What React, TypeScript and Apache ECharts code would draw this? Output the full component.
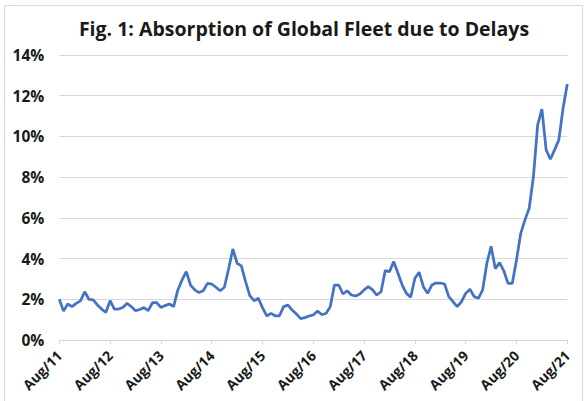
import React, { useEffect, useRef } from "react";
import * as echarts from "echarts";

const TITLE = "Fig. 1: Absorption of Global Fleet due to Delays";
const MONTHS = ["Jan", "Feb", "Mar", "Apr", "May", "Jun", "Jul", "Aug", "Sep", "Oct", "Nov", "Dec"];
const START_MONTH = 7; // Aug
const START_YEAR = 2011;
const Y_TICKS = [0, 2, 4, 6, 8, 10, 12, 14];

// Absorption of global fleet (%), monthly Aug 2011 - Aug 2021
const absorption = [
  2.0, 1.42, 1.77, 1.64, 1.8, 1.92, 2.37, 2.0, 1.97, 1.72, 1.52, 1.36,
  1.93, 1.52, 1.52, 1.6, 1.8, 1.64, 1.44, 1.5, 1.59, 1.44, 1.83, 1.83,
  1.6, 1.69, 1.77, 1.64, 2.46, 2.95, 3.36, 2.7, 2.46, 2.33, 2.42, 2.78,
  2.75, 2.59, 2.42, 2.59, 3.5, 4.47, 3.77, 3.64, 2.87, 2.18, 1.93, 2.05,
  1.59, 1.18, 1.31, 1.19, 1.19, 1.64, 1.72, 1.47, 1.28, 1.05, 1.1, 1.18,
  1.23, 1.42, 1.25, 1.3, 1.64, 2.7, 2.7, 2.26, 2.42, 2.21, 2.16, 2.26,
  2.46, 2.62, 2.46, 2.21, 2.37, 3.41, 3.36, 3.85, 3.28, 2.7, 2.29, 2.1,
  3.03, 3.33, 2.62, 2.29, 2.7, 2.8, 2.8, 2.75, 2.13, 1.88, 1.64, 1.88,
  2.29, 2.49, 2.13, 2.05, 2.46, 3.77, 4.6, 3.5, 3.8, 3.4, 2.78, 2.78,
  3.93, 5.24, 5.9, 6.47, 8.03, 10.57, 11.34, 9.34, 8.88, 9.34, 9.83, 11.38,
  12.58,
];

const categories = absorption.map((_, i) => {
  const m = (START_MONTH + i) % 12;
  const y = START_YEAR + Math.floor((START_MONTH + i) / 12);
  return `${MONTHS[m]}/${String(y % 100).padStart(2, "0")}`;
});

export default function App() {
  const ref = useRef<HTMLDivElement>(null);
  useEffect(() => {
    document.body.style.margin = "0";
    if (!ref.current) return;
    const chart = echarts.init(ref.current, undefined, { renderer: "svg" });
    const font = "'Open Sans', 'Noto Sans', sans-serif";
    chart.setOption({
      animation: false,
      backgroundColor: "#ffffff",
      title: {
        text: TITLE,
        left: 299,
        textAlign: "center",
        top: 13,
        textStyle: { fontFamily: font, fontSize: 19.5, fontWeight: "bold", color: "#1a1a1a" },
      },
      graphic: [
        {
          type: "rect",
          shape: { x: 4.5, y: 5.5, width: 578, height: 400 },
          style: { fill: "none", stroke: "#d3dae5", lineWidth: 1 },
          silent: true,
        },
      ],
      grid: { left: 59.3, right: 17.7, top: 55, bottom: 61, containLabel: false },
      xAxis: {
        type: "category",
        data: categories,
        boundaryGap: false,
        axisLine: { show: true, lineStyle: { color: "#d9d9d9", width: 1 } },
        axisTick: {
          show: true,
          interval: (i: number) => i % 12 === 0,
          length: 4,
          lineStyle: { color: "#d9d9d9" },
        },
        axisLabel: {
          interval: (i: number) => i % 12 === 0,
          rotate: 45,
          margin: 13,
          fontFamily: font,
          fontSize: 14,
          fontWeight: "bold",
          color: "#1a1a1a",
        },
        splitLine: { show: false },
      },
      yAxis: {
        type: "value",
        min: Y_TICKS[0],
        max: Y_TICKS[Y_TICKS.length - 1],
        interval: 2,
        axisLine: { show: false },
        axisTick: { show: false },
        axisLabel: {
          formatter: "{value}%",
          margin: 15,
          fontFamily: font,
          fontSize: 15.5,
          fontWeight: "bold",
          color: "#1a1a1a",
        },
        splitLine: { show: true, lineStyle: { color: "#d9d9d9", width: 1 } },
      },
      series: [
        {
          type: "line",
          data: absorption,
          symbol: "none",
          lineStyle: { color: "#4472c4", width: 2.75 },
          itemStyle: { color: "#4472c4" },
        },
      ],
    });
    return () => chart.dispose();
  }, []);
  return <div ref={ref} style={{ position: "fixed", left: 0, top: 0, width: 585, height: 401 }} />;
}
